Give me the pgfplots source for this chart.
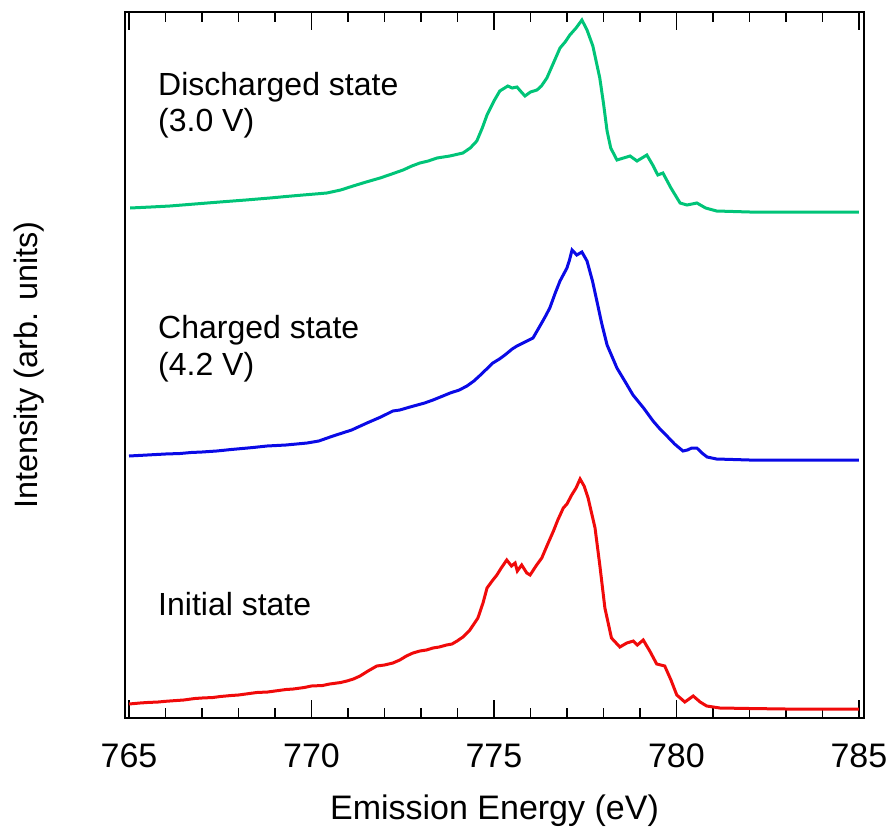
\documentclass[border=0pt]{standalone}
\usepackage{fontspec}
\setmainfont{Liberation Sans}
\usepackage{pgfplots}
\pgfplotsset{compat=1.18}
\definecolor{cgreen}{RGB}{0,196,120}
\definecolor{cblue}{RGB}{10,10,230}
\definecolor{cred}{RGB}{240,10,10}
\begin{document}
\begin{tikzpicture}
\useasboundingbox (-62.5pt,-54.5pt) rectangle (382pt,359pt);
\begin{axis}[
  at={(0,0)}, anchor=south west,
  scale only axis,
  width=369.5pt, height=353pt,
  xmin=764.89, xmax=785.14,
  ymin=0, ymax=706,
  xtick={765,770,775,780,785},
  minor x tick num=4,
  ytick=\empty,
  tick align=inside,
  major tick length=9pt,
  minor tick length=5pt,
  every tick/.style={black, line width=0.9pt},
  axis line style={line width=1pt},
  font=\fontsize{16}{19}\selectfont,
  /pgf/number format/assume math mode=true,
  /pgf/number format/1000 sep={},
  xticklabel style={anchor=center, yshift=-19pt, font=\fontsize{17}{20}\selectfont},
  xlabel={Emission Energy (eV)},
  ylabel={Intensity (arb. units)},
  xlabel style={at={(rel axis cs:0.5,0)}, anchor=center, yshift=-46.5pt, font=\fontsize{17}{20}\selectfont},
  ylabel style={at={(rel axis cs:0,0.5)}, anchor=center, yshift=48pt, font=\fontsize{16.2}{19}\selectfont},
  clip=false,
]
% Initial state (red)
\addplot[cred, line width=1.5pt] coordinates {
(765.0,14) (765.3,15) (765.5,15.5) (765.8,16) (766.0,16.7) (766.3,17.5) (766.5,18) (766.8,19.5) (767.0,20) (767.3,20.5) (767.5,21.5) (767.8,22.5) (768.0,23) (768.3,24.5) (768.5,25.5) (768.8,26) (769.0,27) (769.3,28.5) (769.5,29) (769.8,30.5) (770.0,32) (770.3,32.5) (770.5,34) (770.8,35.5)
(770.97,37) (771.15,39) (771.33,42) (771.55,47) (771.79,52) (772.0,53) (772.23,55) (772.42,58) (772.6,62) (772.78,65) (772.97,67) (773.15,68) (773.33,70) (773.5,71) (773.7,73) (773.85,74) (773.99,77)
(774.15,81) (774.34,88) (774.56,100) (774.7,115) (774.81,130) (774.95,137) (775.08,143) (775.2,150) (775.35,158) (775.48,152) (775.58,155) (775.64,147) (775.76,153)
(775.90,145) (775.99,143) (776.17,153) (776.31,160) (776.45,172) (776.63,187) (776.75,198) (776.90,210) (777.0,214) (777.13,223) (777.25,230) (777.36,239) (777.47,232) (777.58,220)
(777.77,190) (777.90,153) (778.04,110) (778.22,80) (778.45,71) (778.64,75) (778.82,77) (778.93,73) (779.09,78)
(779.27,67) (779.46,54) (779.68,52) (779.85,38) (780.01,23) (780.23,16) (780.46,22) (780.65,16) (780.83,12) (781.19,10) (782,9.5) (783,9) (784,9) (785,9)
};
% Charged state (blue)
\addplot[cblue, line width=1.5pt] coordinates {
(765.0,262) (765.5,263) (766.0,264) (766.4,264.5) (766.7,265.5) (767.0,266) (767.4,267) (767.8,268.5) (768.1,269.5) (768.4,270.5) (768.78,272) (769.3,273) (769.88,275) (770.2,277) (770.59,282) (771.1,288) (771.52,295)
(771.9,301) (772.23,307) (772.42,308) (772.7,311) (772.9,313) (773.1,315) (773.33,318) (773.6,322) (773.8,325) (774.05,328) (774.26,332) (774.45,337) (774.6,342) (774.8,349) (774.97,355) (775.15,359) (775.3,363) (775.5,369) (775.63,372) (775.85,376) (776.07,380)
(776.26,392) (776.4,401) (776.53,410) (776.68,425) (776.81,437) (777.0,450) (777.07,458) (777.14,468) (777.27,463) (777.41,466) (777.55,457)
(777.7,437) (777.82,417) (777.95,395) (778.1,373) (778.37,350) (778.6,336) (778.81,323) (779.1,310) (779.36,297) (779.55,289) (779.74,282) (779.95,274) (780.18,267) (780.3,268) (780.42,270) (780.56,270)
(780.7,265) (780.84,261) (781.1,259) (782.0,258) (783,258) (784,258) (785,258)
};
% Discharged state (green)
\addplot[cgreen, line width=1.5pt] coordinates {
(765.03,510) (765.6,511) (766.12,512) (766.8,514) (767.49,516) (768.2,518) (768.86,520) (769.3,521.5) (769.77,523) (770.1,524) (770.42,525) (770.8,528) (771.14,532) (771.5,536) (771.88,540)
(772.2,544) (772.51,548) (772.75,552) (772.97,555) (773.2,557) (773.44,560) (773.79,562) (774.15,565) (774.35,570) (774.53,577) (774.68,590) (774.81,603) (775.0,617) (775.16,627)
(775.38,632) (775.5,630) (775.63,631) (775.75,626) (775.85,622) (776.0,626) (776.18,628) (776.3,632) (776.45,640) (776.63,655) (776.81,670) (776.95,676) (777.08,683) (777.25,690) (777.41,698)
(777.55,688) (777.71,672) (777.9,640) (778.0,615) (778.1,587) (778.2,570) (778.37,558) (778.55,560) (778.73,562) (778.92,557) (779.19,563) (779.35,553) (779.49,543)
(779.63,545) (779.85,530) (780.1,515) (780.29,513) (780.56,515) (780.8,510) (781.1,507) (782.01,506) (783,506) (784,506) (785,506)
};
\node[anchor=base west, inner sep=0pt, font=\fontsize{16}{19}\selectfont] at (axis cs:765.79,623) {Discharged state};
\node[anchor=base west, inner sep=0pt, font=\fontsize{16}{19}\selectfont] at (axis cs:765.79,587) {(3.0 V)};
\node[anchor=base west, inner sep=0pt, font=\fontsize{16}{19}\selectfont] at (axis cs:765.79,380) {Charged state};
\node[anchor=base west, inner sep=0pt, font=\fontsize{16}{19}\selectfont] at (axis cs:765.79,343) {(4.2 V)};
\node[anchor=base west, inner sep=0pt, font=\fontsize{16}{19}\selectfont] at (axis cs:765.79,103) {Initial state};
\end{axis}
\end{tikzpicture}
\end{document}
